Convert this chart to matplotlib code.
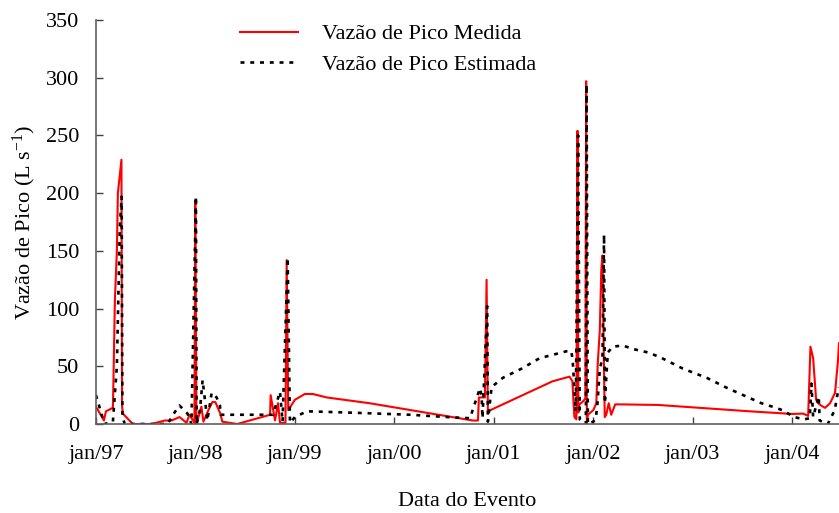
import matplotlib
matplotlib.use("Agg")
import matplotlib.pyplot as plt

plt.rcParams['font.family'] = ['Liberation Serif', 'DejaVu Serif']
plt.rcParams['mathtext.default'] = 'regular'

# datas dos eventos (ano decimal) e vazoes de pico (L/s)
data_medida = [1997.00, 1997.08, 1997.10, 1997.17, 1997.175, 1997.19, 1997.21, 1997.22, 1997.256,
               1997.262, 1997.27, 1997.37, 1997.56, 1997.69, 1997.76, 1997.84, 1997.91, 1997.94,
               1997.99, 1997.998, 1998.01, 1998.06, 1998.08, 1998.13, 1998.17, 1998.20, 1998.25,
               1998.27, 1998.42, 1998.75, 1998.756, 1998.80, 1998.83, 1998.85, 1998.905, 1998.917,
               1998.933, 1999.00, 1999.10, 1999.18, 1999.32, 1999.75, 2000.79, 2000.84, 2000.85,
               2000.91, 2000.927, 2000.94, 2001.09, 2001.59, 2001.76, 2001.79, 2001.80, 2001.81,
               2001.83, 2001.841, 2001.85, 2001.86, 2001.89, 2001.92, 2001.928, 2001.935, 2001.945,
               2002.00, 2002.03, 2002.045, 2002.065, 2002.08, 2002.092, 2002.105, 2002.115, 2002.13,
               2002.155, 2002.18, 2002.22, 2002.27, 2002.65, 2003.07, 2003.57, 2004.00, 2004.11,
               2004.16, 2004.183, 2004.21, 2004.24, 2004.26, 2004.29, 2004.33, 2004.38, 2004.43,
               2004.46, 2004.47]
vazao_medida = [15, 3, 11, 14, 35, 107, 150, 200, 229,
                16, 9, 0, 0, 3, 3, 6, 1, 8,
                1, 194, 0, 15, 2, 12, 19, 19, 9,
                2, 0, 8, 25, 3, 18, 1, 1, 142,
                12, 21, 26, 26, 23, 18, 3, 3, 23,
                23, 125, 11, 17, 37, 41, 37, 20, 6,
                4, 254, 10, 17, 19, 22, 297, 0, 8,
                12, 18, 53, 81, 133, 146, 60, 6, 8,
                18, 8, 17, 17, 16.5, 14, 11, 8.7, 9,
                7, 67, 57, 21, 18, 16, 14, 18, 27,
                55, 70]

data_estimada = [1997.00, 1997.085, 1997.17, 1997.21, 1997.24, 1997.258, 1997.266, 1997.29, 1997.72,
                 1997.79, 1997.84, 1997.92, 1997.96, 1998.005, 1998.012, 1998.045, 1998.072, 1998.095,
                 1998.12, 1998.163, 1998.213, 1998.246, 1998.253, 1998.78, 1998.85, 1998.876,
                 1998.927, 1998.95, 1999.00, 1999.12, 1999.32, 1999.68, 2000.16, 2000.53, 2000.76,
                 2000.86, 2000.877, 2000.886, 2000.933, 2000.94, 2000.977, 2001.09, 2001.28, 2001.46,
                 2001.73, 2001.78, 2001.794, 2001.824, 2001.847, 2001.864, 2001.925, 2001.932,
                 2001.945, 2002.00, 2002.025, 2002.04, 2002.065, 2002.092, 2002.108, 2002.116,
                 2002.13, 2002.146, 2002.196, 2002.297, 2002.397, 2002.548, 2002.668, 2002.90,
                 2003.14, 2003.35, 2003.69, 2003.80, 2003.90, 2004.02, 2004.12, 2004.176, 2004.193,
                 2004.21, 2004.266, 2004.276, 2004.357, 2004.427, 2004.467]
vazao_estimada = [25, 0, 2, 50, 171, 197, 6, 0, 0,
                  10, 16, 9, 0, 197, 0, 12, 38, 21,
                  3, 27, 23, 16, 8, 8, 28, 2,
                  144, 1, 6, 11, 10.5, 9.5, 8, 6, 5,
                  31, 24, 5, 102, 2, 32, 40, 48, 57,
                  63, 63, 53, 11, 250, 4, 0, 294,
                  0, 2, 5, 16, 47, 58, 164, 18,
                  40, 62, 67, 68, 65, 62, 58, 48,
                  40, 31, 18, 15, 12, 6, 4, 5, 35,
                  6, 24, 3, 0, 12, 32]

anos = [1997, 1998, 1999, 2000, 2001, 2002, 2003, 2004]
rotulos = ['jan/97', 'jan/98', 'jan/99', 'jan/00', 'jan/01', 'jan/02', 'jan/03', 'jan/04']

fig = plt.figure(figsize=(8.39, 5.13), dpi=100)
ax = fig.add_axes([0.1144, 0.1735, 0.8856, 0.7875])

ax.plot(data_medida, vazao_medida, color='#ff0000', lw=1.5, label='Vazão de Pico Medida')
ax.plot(data_estimada, vazao_estimada, color='black', lw=1.9, linestyle=(0, (1.5, 2.2)),
        label='Vazão de Pico Estimada')

ax.set_xlim(1997.0, 2004.47)
ax.set_ylim(0, 350)
ax.set_xticks(anos)
ax.set_xticklabels(rotulos)
ax.set_yticks(range(0, 351, 50))

for s in ['top', 'right']:
    ax.spines[s].set_visible(False)
for s in ['left', 'bottom']:
    ax.spines[s].set_color('#606060')
    ax.spines[s].set_linewidth(1.2)
ax.tick_params(axis='both', direction='in', length=5, width=1, color='#404040', labelsize=16)
ax.tick_params(axis='x', pad=15)
ax.tick_params(axis='y', pad=12)

ax.set_xlabel('Data do Evento', fontsize=16, labelpad=20)
ax.set_ylabel('Vazão de Pico (L s$^{-1}$)', fontsize=16, labelpad=6)

ax.legend(loc='upper left', bbox_to_anchor=(0.167, 1.04), frameon=False, fontsize=16,
          handlelength=2.6, handletextpad=1.1, labelspacing=0.45)

fig.savefig('out.png', dpi=100)
